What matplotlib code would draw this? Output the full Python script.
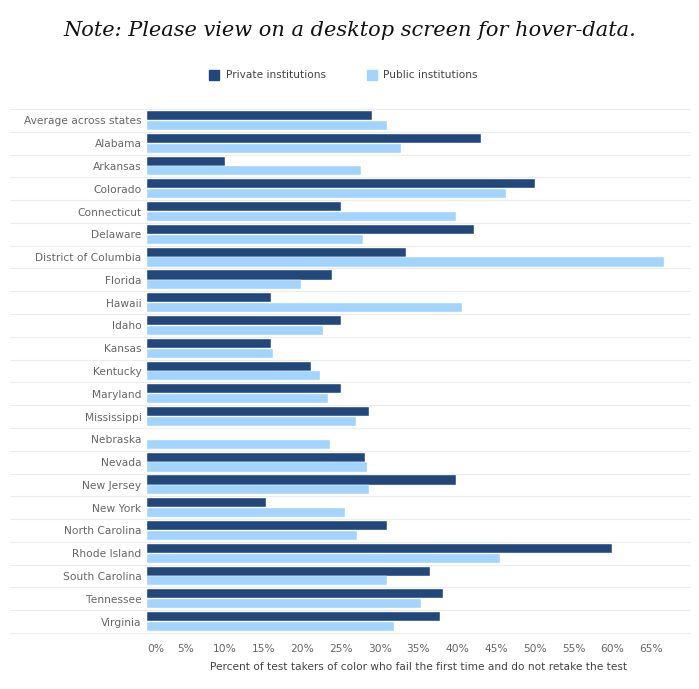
import numpy as np
import matplotlib.pyplot as plt

states = [
    "Average across states", "Alabama", "Arkansas", "Colorado", "Connecticut",
    "Delaware", "District of Columbia", "Florida", "Hawaii", "Idaho", "Kansas",
    "Kentucky", "Maryland", "Mississippi", "Nebraska", "Nevada", "New Jersey",
    "New York", "North Carolina", "Rhode Island", "South Carolina", "Tennessee",
    "Virginia",
]
private = [29.0, 43.0, 10.0, 50.0, 25.0, 42.2, 33.4, 23.8, 16.0, 25.0, 16.0,
           21.1, 25.0, 28.6, np.nan, 28.1, 39.8, 15.3, 31.0, 60.0, 36.5, 38.2,
           37.8]
public = [31.0, 32.7, 27.6, 46.3, 39.8, 27.9, 66.7, 19.8, 40.6, 22.7, 16.2,
          22.3, 23.3, 27.0, 23.6, 28.3, 28.6, 25.5, 27.1, 45.5, 31.0, 35.3,
          31.9]
ticks = list(range(0, 70, 5))
tick_labels = [f"{t}%" for t in ticks]

dark = "#22477a"
light = "#a3d4fd"
grey = "#666666"

fig = plt.figure(figsize=(6.99, 6.89), dpi=100)
ax = fig.add_axes([147 / 699, 1 - 633 / 689, 543 / 699, 524 / 689])

y = np.arange(len(states))
ax.barh(y - 0.215, private, height=0.4, color=dark, edgecolor="white", linewidth=0.3)
ax.barh(y + 0.215, public, height=0.4, color=light, edgecolor="white", linewidth=0.3)

ax.set_xlim(0, 70)
ax.set_ylim(len(states) - 0.5, -0.5)

# row separators reaching into the label area
for b in np.arange(len(states) + 1) - 0.5:
    ax.axhline(b, xmin=-0.253, xmax=1, color="#ececec", linewidth=0.8,
               clip_on=False, zorder=0)

ax.set_yticks(y)
ax.set_yticklabels(states, fontsize=7.7, color=grey)
ax.set_xticks(ticks)
ax.set_xticklabels(tick_labels, fontsize=7.7, color=grey)
ax.get_xticklabels()[0].set_horizontalalignment("left")
ax.tick_params(axis="y", length=0, pad=4)
ax.tick_params(axis="x", length=0, pad=8)
for s in ax.spines.values():
    s.set_visible(False)

ax.set_xlabel("Percent of test takers of color who fail the first time and do not retake the test",
              fontsize=7.6, color="#444444", labelpad=5.5)

fig.text(0.5, 1 - 30 / 689, "Note: Please view on a desktop screen for hover-data.",
         ha="center", va="center", fontsize=15, style="italic",
         family="DejaVu Serif", color="#111111")

# legend
ly = 1 - 75 / 689
fig.patches.append(plt.Rectangle((209 / 699, ly - 5 / 689), 10 / 699, 10 / 689,
                                 transform=fig.transFigure, color=dark))
fig.text(226 / 699, ly, "Private institutions", fontsize=7.6, color="#444444", va="center")
fig.patches.append(plt.Rectangle((367 / 699, ly - 5 / 689), 10 / 699, 10 / 689,
                                 transform=fig.transFigure, color=light))
fig.text(383 / 699, ly, "Public institutions", fontsize=7.6, color="#444444", va="center")

fig.savefig("out.png", dpi=100)
